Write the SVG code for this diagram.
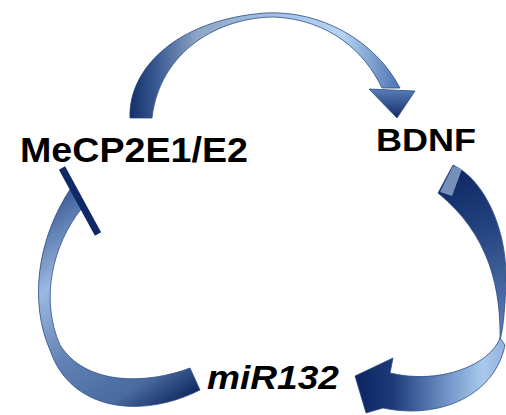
<svg xmlns="http://www.w3.org/2000/svg" width="506" height="415" viewBox="0 0 506 415">
  <style>
    .lbl { font-family: "Liberation Sans", Arial, sans-serif; font-weight: bold; fill: #000; }
    .rib { stroke: #2d4d85; stroke-width: 0.8; stroke-linejoin: round; }
  </style>
  <defs>
    <linearGradient id="gTop" gradientUnits="userSpaceOnUse" x1="130" y1="0" x2="402" y2="0">
      <stop offset="0" stop-color="#142f69"/>
      <stop offset="0.1" stop-color="#3a5a92"/>
      <stop offset="0.25" stop-color="#8ea6c6"/>
      <stop offset="0.6" stop-color="#a8c8ec"/>
      <stop offset="0.78" stop-color="#b5d3f2"/>
      <stop offset="0.93" stop-color="#6a8fc4"/>
      <stop offset="1" stop-color="#4a70ac"/>
    </linearGradient>
    <linearGradient id="gTopHead" gradientUnits="userSpaceOnUse" x1="0" y1="88" x2="0" y2="118">
      <stop offset="0" stop-color="#5a80bb"/>
      <stop offset="1" stop-color="#122d68"/>
    </linearGradient>
    <linearGradient id="gRightUp" gradientUnits="userSpaceOnUse" x1="450" y1="170" x2="505" y2="335">
      <stop offset="0" stop-color="#0d2762"/>
      <stop offset="0.35" stop-color="#22407c"/>
      <stop offset="1" stop-color="#5d80b6"/>
    </linearGradient>
    <linearGradient id="gRightLow" gradientUnits="userSpaceOnUse" x1="355" y1="0" x2="506" y2="0">
      <stop offset="0" stop-color="#0c2460"/>
      <stop offset="0.25" stop-color="#1d3a78"/>
      <stop offset="0.6" stop-color="#6f92c6"/>
      <stop offset="0.85" stop-color="#a9c9ec"/>
      <stop offset="1" stop-color="#8fb0da"/>
    </linearGradient>
    <linearGradient id="gLeft" gradientUnits="userSpaceOnUse" x1="60" y1="180" x2="200" y2="390">
      <stop offset="0" stop-color="#2c4c8c"/>
      <stop offset="0.33" stop-color="#9bb9e0"/>
      <stop offset="0.6" stop-color="#6282b4"/>
      <stop offset="0.85" stop-color="#4a6aa0"/>
      <stop offset="1" stop-color="#10295f"/>
    </linearGradient>
  </defs>

  <g id="connectors">
    <g id="edge-mecp2-bdnf">
      <path class="rib" fill="url(#gTop)" d="M130,118 C128,70 175,20 265,13 C320,10 375,40 400,88 L382,88 C365,52 330,20 275,17 C220,17 160,50 152,118 Z"/>
      <path class="rib" fill="url(#gTopHead)" d="M369,89 L415,91 L397,118 Z"/>
    </g>
    <g id="edge-bdnf-mir132">
      <path class="rib" fill="url(#gRightUp)" d="M438,193 L453,165 C485,180 507,230 506,280 C505,310 503,330 500,340 C501,290 490,235 438,193 Z"/>
      <path fill="#8aa2c8" opacity="0.85" d="M440,192 L453,166 L462,169 L452,196 Z"/>
      <path class="rib" fill="url(#gRightLow)" d="M500,338 C490,365 440,385 390,373 L393,358 L355,376 L366,413 L383,408 C440,420 495,395 505,345 Z"/>
    </g>
    <g id="edge-mir132-mecp2">
      <path class="rib" fill="url(#gLeft)" d="M190,368 L200,390 C140,420 70,410 50,350 C30,305 35,240 73,185 L82,208 C52,245 40,300 60,345 C85,385 145,385 190,368 Z"/>
      <line x1="62" y1="168" x2="98" y2="234" stroke="#0f2a66" stroke-width="7"/>
    </g>
  </g>

  <g id="node-mecp2">
    <text class="lbl" x="20" y="162" font-size="35" textLength="228" lengthAdjust="spacingAndGlyphs">MeCP2E1/E2</text>
  </g>
  <g id="node-bdnf">
    <text class="lbl" x="376" y="151" font-size="31" textLength="100" lengthAdjust="spacingAndGlyphs">BDNF</text>
  </g>
  <g id="node-mir132">
    <text class="lbl" x="207" y="389" font-size="33" font-style="italic" textLength="132" lengthAdjust="spacingAndGlyphs">miR132</text>
  </g>
</svg>
